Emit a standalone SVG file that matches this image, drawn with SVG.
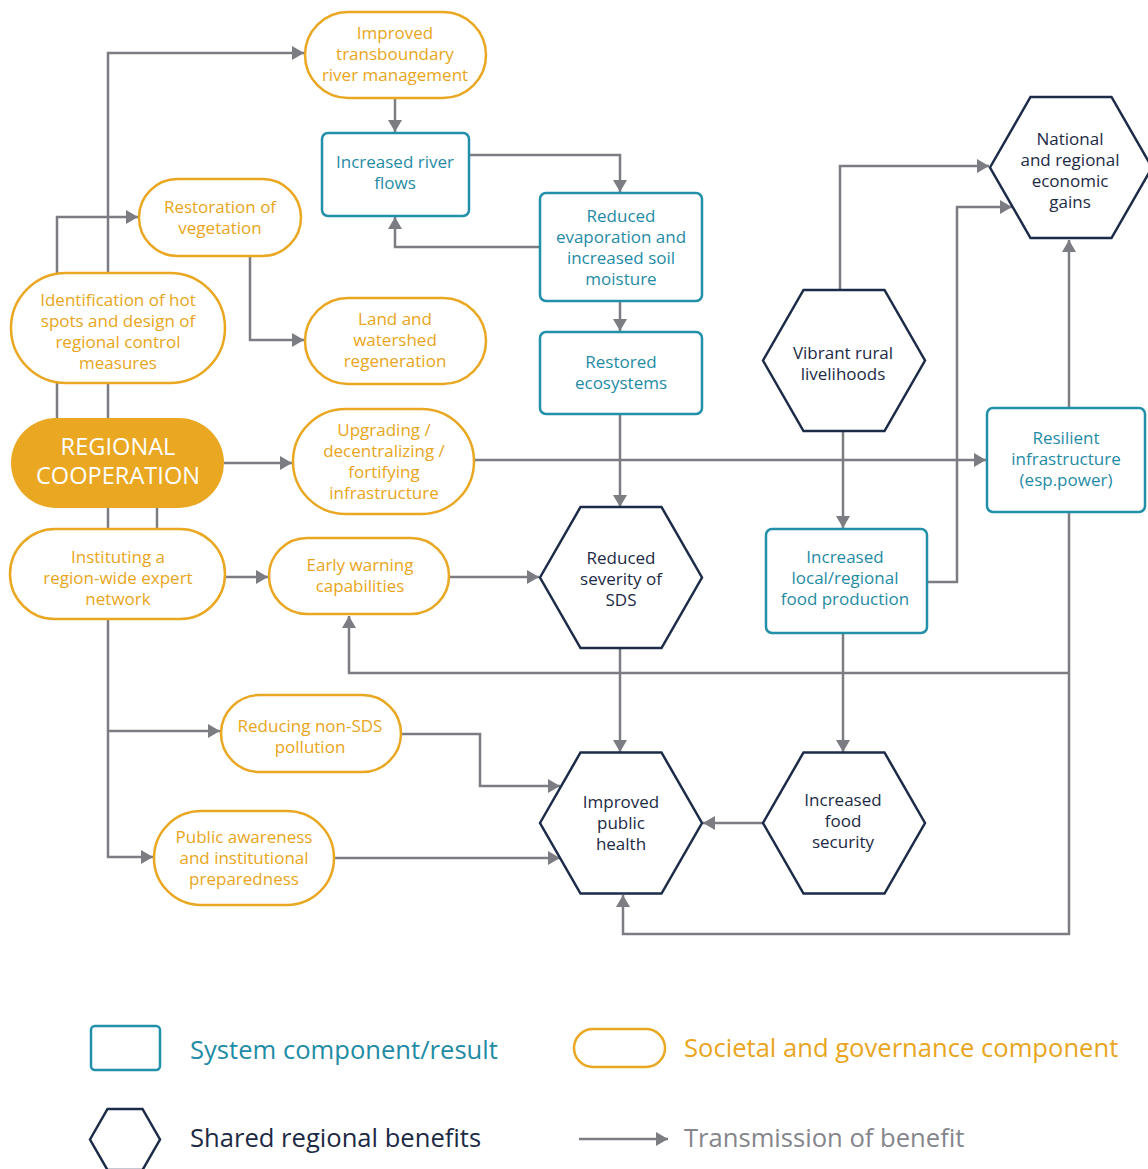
<svg xmlns="http://www.w3.org/2000/svg" width="1148" height="1169" viewBox="0 0 1148 1169">
<style>
text{font-family:"Open Sans","Noto Sans",sans-serif;font-size:17px;text-anchor:middle}
.pill{fill:#fff;stroke:#E9A722;stroke-width:2.5}
.sys{fill:#fff;stroke:#2290A9;stroke-width:2.5}
.hex{fill:#fff;stroke:#1B2B48;stroke-width:2.5}
.to{fill:#E9A520}
.tt{fill:#1F8BA5}
.tn{fill:#1C2A45}
.con{fill:none;stroke:#7C7C83;stroke-width:2.5}
.leg{font-size:25.6px;text-anchor:start}
</style>
<defs>
<marker id="ah" markerUnits="userSpaceOnUse" markerWidth="13" markerHeight="14" refX="12" refY="7" orient="auto" viewBox="0 0 13 14">
<path d="M0,0 L12,7 L0,14 z" fill="#7C7C83"/>
</marker>
</defs>
<rect width="1148" height="1169" fill="#fff"/>
<g id="connectors">
<path class="con" d="M108,418 V53 H304" marker-end="url(#ah)"/>
<path class="con" d="M57,418 V217 H138" marker-end="url(#ah)"/>
<path class="con" d="M395,98 V132" marker-end="url(#ah)"/>
<path class="con" d="M469,155 H620 V192" marker-end="url(#ah)"/>
<path class="con" d="M540,247 H395 V217" marker-end="url(#ah)"/>
<path class="con" d="M250,256 V340 H304" marker-end="url(#ah)"/>
<path class="con" d="M620,301 V331" marker-end="url(#ah)"/>
<path class="con" d="M620,414 V507" marker-end="url(#ah)"/>
<path class="con" d="M224,463 H292" marker-end="url(#ah)"/>
<path class="con" d="M474,460 H986" marker-end="url(#ah)"/>
<path class="con" d="M157,508 V529"/>
<path class="con" d="M108,508 V857 H153" marker-end="url(#ah)"/>
<path class="con" d="M108,731 H220" marker-end="url(#ah)"/>
<path class="con" d="M225,577 H268" marker-end="url(#ah)"/>
<path class="con" d="M449,577 H539" marker-end="url(#ah)"/>
<path class="con" d="M620,648 V752" marker-end="url(#ah)"/>
<path class="con" d="M401,734 H480 V786 H560" marker-end="url(#ah)"/>
<path class="con" d="M334,858 H560" marker-end="url(#ah)"/>
<path class="con" d="M763,823 H703" marker-end="url(#ah)"/>
<path class="con" d="M843,633 V752" marker-end="url(#ah)"/>
<path class="con" d="M843,431 V528" marker-end="url(#ah)"/>
<path class="con" d="M840,290 V166 H989" marker-end="url(#ah)"/>
<path class="con" d="M927,582 H957 V207 H1012" marker-end="url(#ah)"/>
<path class="con" d="M1069,408 V240" marker-end="url(#ah)"/>
<path class="con" d="M1069,512 V934 H623 V895" marker-end="url(#ah)"/>
<path class="con" d="M1069,673 H349 V616" marker-end="url(#ah)"/>
</g>
<g id="n-river-mgmt">
<rect class="pill" x="305" y="12" width="181" height="86" rx="43"/>
<text class="to"><tspan x="395" y="39">Improved</tspan><tspan x="395" y="60">transboundary</tspan><tspan x="395" y="81">river management</tspan></text>
</g>
<g id="n-river-flows">
<rect class="sys" x="322" y="133" width="147" height="83" rx="6"/>
<text class="tt"><tspan x="395" y="168">Increased river</tspan><tspan x="395" y="189">flows</tspan></text>
</g>
<g id="n-vegetation">
<rect class="pill" x="139" y="179" width="162" height="77" rx="38.5"/>
<text class="to"><tspan x="220" y="213">Restoration of</tspan><tspan x="220" y="234">vegetation</tspan></text>
</g>
<g id="n-hotspots">
<rect class="pill" x="11" y="273" width="214" height="110" rx="55"/>
<text class="to"><tspan x="118" y="306">Identification of hot</tspan><tspan x="118" y="327">spots and design of</tspan><tspan x="118" y="348">regional control</tspan><tspan x="118" y="369">measures</tspan></text>
</g>
<g id="n-watershed">
<rect class="pill" x="305" y="298" width="181" height="86" rx="43"/>
<text class="to"><tspan x="395" y="325">Land and</tspan><tspan x="395" y="346">watershed</tspan><tspan x="395" y="367">regeneration</tspan></text>
</g>
<g id="n-evaporation">
<rect class="sys" x="540" y="193" width="162" height="108" rx="6"/>
<text class="tt"><tspan x="621" y="222">Reduced</tspan><tspan x="621" y="243">evaporation and</tspan><tspan x="621" y="264">increased soil</tspan><tspan x="621" y="285">moisture</tspan></text>
</g>
<g id="n-ecosystems">
<rect class="sys" x="540" y="332" width="162" height="82" rx="6"/>
<text class="tt"><tspan x="621" y="368">Restored</tspan><tspan x="621" y="389">ecosystems</tspan></text>
</g>
<g id="n-economic">
<polygon class="hex" points="990,167.5 1030.5,97 1111.5,97 1152,167.5 1111.5,238 1030.5,238"/>
<text class="tn"><tspan x="1070" y="145">National</tspan><tspan x="1070" y="166">and regional</tspan><tspan x="1070" y="187">economic</tspan><tspan x="1070" y="208">gains</tspan></text>
</g>
<g id="n-livelihoods">
<polygon class="hex" points="763,360.5 803.5,290 884.5,290 925,360.5 884.5,431 803.5,431"/>
<text class="tn"><tspan x="843" y="359">Vibrant rural</tspan><tspan x="843" y="380">livelihoods</tspan></text>
</g>
<g id="n-resilient">
<rect class="sys" x="987" y="408" width="158" height="104" rx="6"/>
<text class="tt"><tspan x="1066" y="444">Resilient</tspan><tspan x="1066" y="465">infrastructure</tspan><tspan x="1066" y="486">(esp.power)</tspan></text>
</g>
<g id="n-regional-cooperation">
<rect x="11" y="418" width="213" height="90" rx="45" fill="#E9A722"/>
<text fill="#fff" style="font-size:23.6px"><tspan x="118" y="455">REGIONAL</tspan><tspan x="118" y="484">COOPERATION</tspan></text>
</g>
<g id="n-upgrading">
<rect class="pill" x="293" y="409" width="181" height="105" rx="52.5"/>
<text class="to"><tspan x="384" y="436">Upgrading /</tspan><tspan x="384" y="457">decentralizing /</tspan><tspan x="384" y="478">fortifying</tspan><tspan x="384" y="499">infrastructure</tspan></text>
</g>
<g id="n-expert-network">
<rect class="pill" x="10" y="529" width="215" height="90" rx="45"/>
<text class="to"><tspan x="118" y="563">Instituting a</tspan><tspan x="118" y="584">region-wide expert</tspan><tspan x="118" y="605">network</tspan></text>
</g>
<g id="n-early-warning">
<rect class="pill" x="269" y="538" width="180" height="76" rx="38"/>
<text class="to"><tspan x="360" y="571">Early warning</tspan><tspan x="360" y="592">capabilities</tspan></text>
</g>
<g id="n-sds">
<polygon class="hex" points="540,577.5 580.5,507 661.5,507 702,577.5 661.5,648 580.5,648"/>
<text class="tn"><tspan x="621" y="564">Reduced</tspan><tspan x="621" y="585">severity of</tspan><tspan x="621" y="606">SDS</tspan></text>
</g>
<g id="n-food-production">
<rect class="sys" x="766" y="529" width="161" height="104" rx="6"/>
<text class="tt"><tspan x="845" y="563">Increased</tspan><tspan x="845" y="584">local/regional</tspan><tspan x="845" y="605">food production</tspan></text>
</g>
<g id="n-pollution">
<rect class="pill" x="221" y="695" width="180" height="77" rx="38.5"/>
<text class="to"><tspan x="310" y="732">Reducing non-SDS</tspan><tspan x="310" y="753">pollution</tspan></text>
</g>
<g id="n-awareness">
<rect class="pill" x="154" y="811" width="180" height="94" rx="47"/>
<text class="to"><tspan x="244" y="843">Public awareness</tspan><tspan x="244" y="864">and institutional</tspan><tspan x="244" y="885">preparedness</tspan></text>
</g>
<g id="n-public-health">
<polygon class="hex" points="540,823 580.5,752.5 661.5,752.5 702,823 661.5,893.5 580.5,893.5"/>
<text class="tn"><tspan x="621" y="808">Improved</tspan><tspan x="621" y="829">public</tspan><tspan x="621" y="850">health</tspan></text>
</g>
<g id="n-food-security">
<polygon class="hex" points="763,823 803.5,752.5 884.5,752.5 925,823 884.5,893.5 803.5,893.5"/>
<text class="tn"><tspan x="843" y="806">Increased</tspan><tspan x="843" y="827">food</tspan><tspan x="843" y="848">security</tspan></text>
</g>
<g id="legend">
<rect class="sys" x="91" y="1026" width="69" height="44" rx="4"/>
<text class="leg tt" x="190" y="1059">System component/result</text>
<rect class="pill" x="574" y="1029" width="91" height="38" rx="19"/>
<text class="leg to" x="684" y="1057">Societal and governance component</text>
<polygon class="hex" points="90,1139.5 107.5,1109 142.5,1109 160,1139.5 142.5,1170 107.5,1170"/>
<text class="leg tn" x="190" y="1147">Shared regional benefits</text>
<path class="con" d="M579,1139 H668" marker-end="url(#ah)"/>
<text class="leg" x="684" y="1147" fill="#85858C">Transmission of benefit</text>
</g>
</svg>
